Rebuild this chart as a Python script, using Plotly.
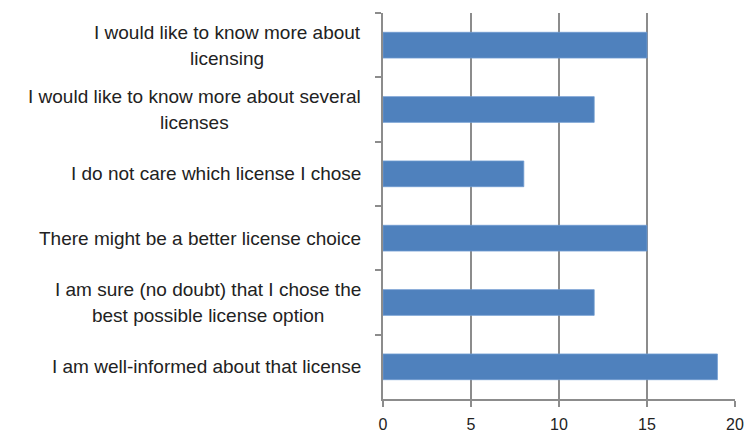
import plotly.graph_objects as go

# Survey statements (top to bottom) and number of respondents agreeing
statements = [
    "I would like to know more about<br>licensing",
    "I would like to know more about several<br>licenses",
    "I do not care which license I chose",
    "There might be a better license choice",
    "I am sure (no doubt) that I chose the<br>best possible license option",
    "I am well-informed about that license",
]
counts = [15, 12, 8, 15, 12, 19]
x_ticks = [0, 5, 10, 15, 20]

FONT = "Liberation Sans"
TEXT_COLOR = "#222222"
GRID = "#8c8c8c"
LABEL_SIZE = 19
LINE_GAP = 26  # pixel distance between wrapped label lines

fig = go.Figure(
    go.Bar(
        y=statements,
        x=counts,
        orientation="h",
        marker=dict(color="#4f81bd", line=dict(color="#6f9bd1", width=0.8)),
        width=0.4,
        hoverinfo="x+y",
    )
)

# Category labels: right-anchored next to the axis, wrapped lines centred.
# The annotation font size sets the line pitch (1.3em); the spans set glyph size.
annotations = []
for s in statements:
    lines = s.split("<br>")
    text = "<br>".join(
        f"<span style='font-size:{LABEL_SIZE}px'>{ln}</span>" for ln in lines
    )
    annotations.append(
        dict(
            x=0, xref="paper", xanchor="right",
            y=s, yref="y", yanchor="middle",
            text=text, showarrow=False, align="center",
            font=dict(family=FONT, size=LINE_GAP / 1.3, color=TEXT_COLOR),
            xshift=-20,
        )
    )

fig.update_layout(
    width=749, height=435,
    margin=dict(l=383, r=14, t=13, b=36),
    paper_bgcolor="white", plot_bgcolor="white",
    showlegend=False,
    xaxis=dict(
        range=[0, 20], tickvals=x_ticks,
        showgrid=True, gridcolor=GRID, gridwidth=1.5,
        showline=True, linecolor=GRID, linewidth=1.5,
        ticks="outside", ticklen=6, tickcolor=GRID, tickwidth=1.5,
        tickfont=dict(family=FONT, size=16, color=TEXT_COLOR),
        ticklabelstandoff=4,
        zeroline=False, automargin=False,
    ),
    yaxis=dict(
        type="category", autorange="reversed",
        showticklabels=False,
        tickson="boundaries", ticks="outside", ticklen=6,
        tickcolor=GRID, tickwidth=1.5,
        showgrid=False,
        showline=True, linecolor=GRID, linewidth=1.5,
        automargin=False,
    ),
    annotations=annotations,
)

fig.write_html("out.html")
